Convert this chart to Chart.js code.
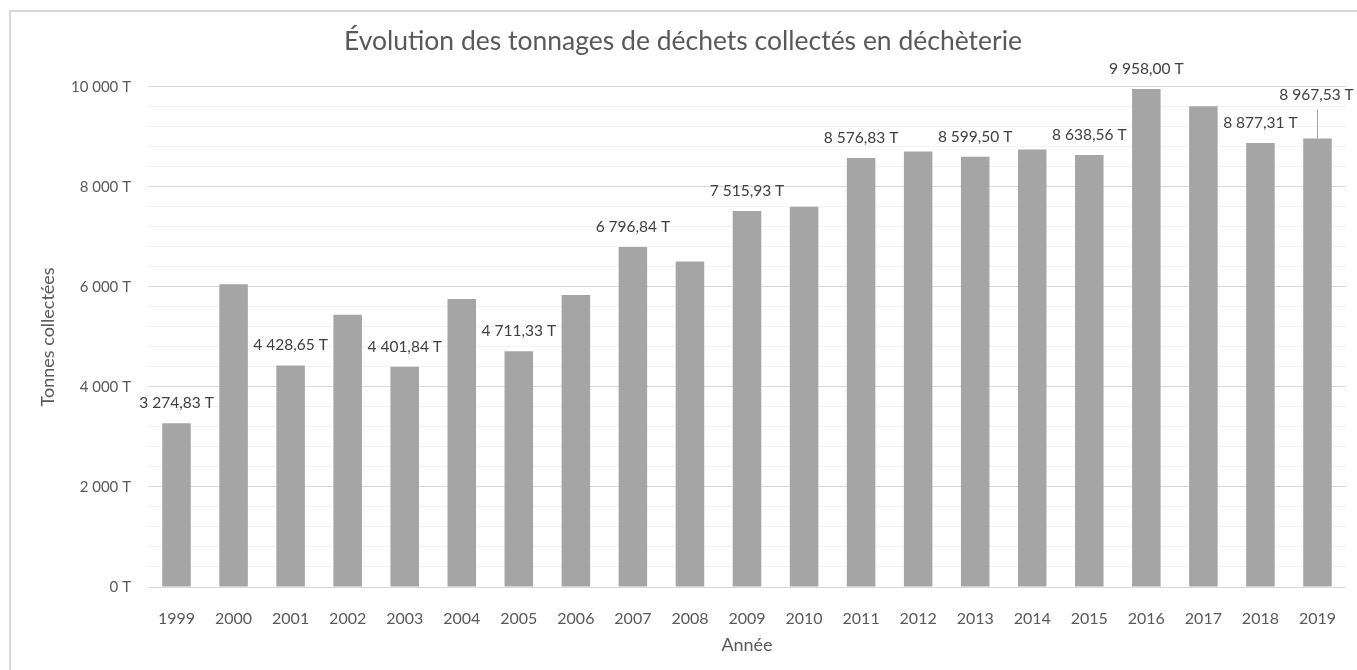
<!DOCTYPE html>
<html>
<head>
<meta charset="utf-8">
<script src="https://cdn.jsdelivr.net/npm/chart.js@4"></script>
<style>
  html, body { margin: 0; padding: 0; background: #fff; overflow: hidden; }
  #cadre { position: absolute; left: 9px; top: 10px; width: 1400px; height: 700px; border: 2px solid #d9d9d9; pointer-events: none; }
  #canvas { position: absolute; left: 0; top: 0; }
</style>
</head>
<body>
<canvas id="canvas" width="1357" height="670"></canvas>
<div id="cadre"></div>
<script>
var annees = ['1999', '2000', '2001', '2002', '2003', '2004', '2005', '2006', '2007', '2008', '2009',
  '2010', '2011', '2012', '2013', '2014', '2015', '2016', '2017', '2018', '2019'];
var tonnes = [3274.83, 6055, 4428.65, 5445, 4401.84, 5760, 4711.33, 5840, 6796.84, 6505, 7515.93,
  7600, 8576.83, 8705, 8599.50, 8745, 8638.56, 9958.00, 9610, 8877.31, 8967.53];
// années qui portent une étiquette sur le graphique
var etiquetees = ['1999', '2001', '2003', '2005', '2007', '2009', '2011', '2013', '2015', '2016', '2018', '2019'];
var graduations = [0, 2000, 4000, 6000, 8000, 10000];

var police = 'Lato, "Open Sans", sans-serif';

function milliers(n) {
  return String(n).replace(/\B(?=(\d{3})+(?!\d))/g, ' ');
}
function formatTonnes(v) {
  var p = v.toFixed(2).split('.');
  return milliers(p[0]) + ',' + p[1] + ' T';
}

var etiquettes = {
  id: 'etiquettes',
  afterDatasetsDraw: function(chart) {
    var ctx = chart.ctx;
    var meta = chart.getDatasetMeta(0);
    ctx.save();
    ctx.font = '15.5px ' + police;
    ctx.fillStyle = '#404040';
    ctx.textAlign = 'center';
    ctx.textBaseline = 'middle';
    meta.data.forEach(function(barre, i) {
      if (etiquetees.indexOf(annees[i]) < 0) return;
      var decale = i === annees.length - 1; // la dernière est remontée avec un trait
      var y = barre.y - (decale ? 43 : 20);
      var x = barre.x - (decale ? 1 : 0);
      if (decale) {
        ctx.strokeStyle = '#a6a6a6';
        ctx.lineWidth = 1;
        ctx.beginPath();
        ctx.moveTo(Math.round(barre.x) + 0.5, y + 14);
        ctx.lineTo(Math.round(barre.x) + 0.5, barre.y);
        ctx.stroke();
      }
      ctx.fillText(formatTonnes(tonnes[i]), x, y);
    });
    ctx.restore();
  }
};

var config = {
  type: 'bar',
  data: {
    labels: annees,
    datasets: [{
      label: 'Tonnes collectées',
      data: tonnes,
      backgroundColor: '#a5a5a5',
      borderWidth: 0,
      categoryPercentage: 1,
      barPercentage: 0.5
    }]
  },
  options: {
    responsive: false,
    animation: false,
    events: [],
    layout: { padding: { left: 20, right: 11, top: 0, bottom: 0 } },
    plugins: {
      legend: { display: false },
      tooltip: { enabled: false },
      title: {
        display: true,
        text: 'Évolution des tonnages de déchets collectés en déchèterie',
        color: '#595959',
        font: { family: police, size: 26.5, weight: 'normal' },
        padding: { top: 26, bottom: 29 }
      }
    },
    scales: {
      x: {
        grid: { display: false },
        border: { display: false },
        ticks: { color: '#595959', font: { family: police, size: 16 }, padding: 14, maxRotation: 0 },
        title: {
          display: true, text: 'Année', color: '#595959',
          font: { family: police, size: 18 }, padding: { top: 0, bottom: 14 }
        },
        afterFit: function(s) { s.height = 83; }
      },
      y: {
        min: 0,
        max: 10000,
        border: { display: false },
        grid: {
          drawTicks: false,
          color: function(c) {
            return graduations.indexOf(c.tick.value) >= 0 ? '#d9d9d9' : '#f2f2f2';
          }
        },
        ticks: {
          stepSize: 400,
          autoSkip: false,
          padding: 17,
          color: '#595959',
          font: { family: police, size: 15 },
          callback: function(v) {
            return graduations.indexOf(v) >= 0 ? milliers(v) + ' T' : '';
          }
        },
        title: {
          display: true, text: 'Tonnes collectées', color: '#595959',
          font: { family: police, size: 18 }, padding: { top: 17, bottom: 0 }
        },
        afterFit: function(s) { s.width = 128; }
      }
    }
  },
  plugins: [etiquettes]
};

window.onload = function() {
  var ctx = document.getElementById('canvas').getContext('2d');
  window.monGraphe = new Chart(ctx, config);
};
</script>
</body>
</html>
